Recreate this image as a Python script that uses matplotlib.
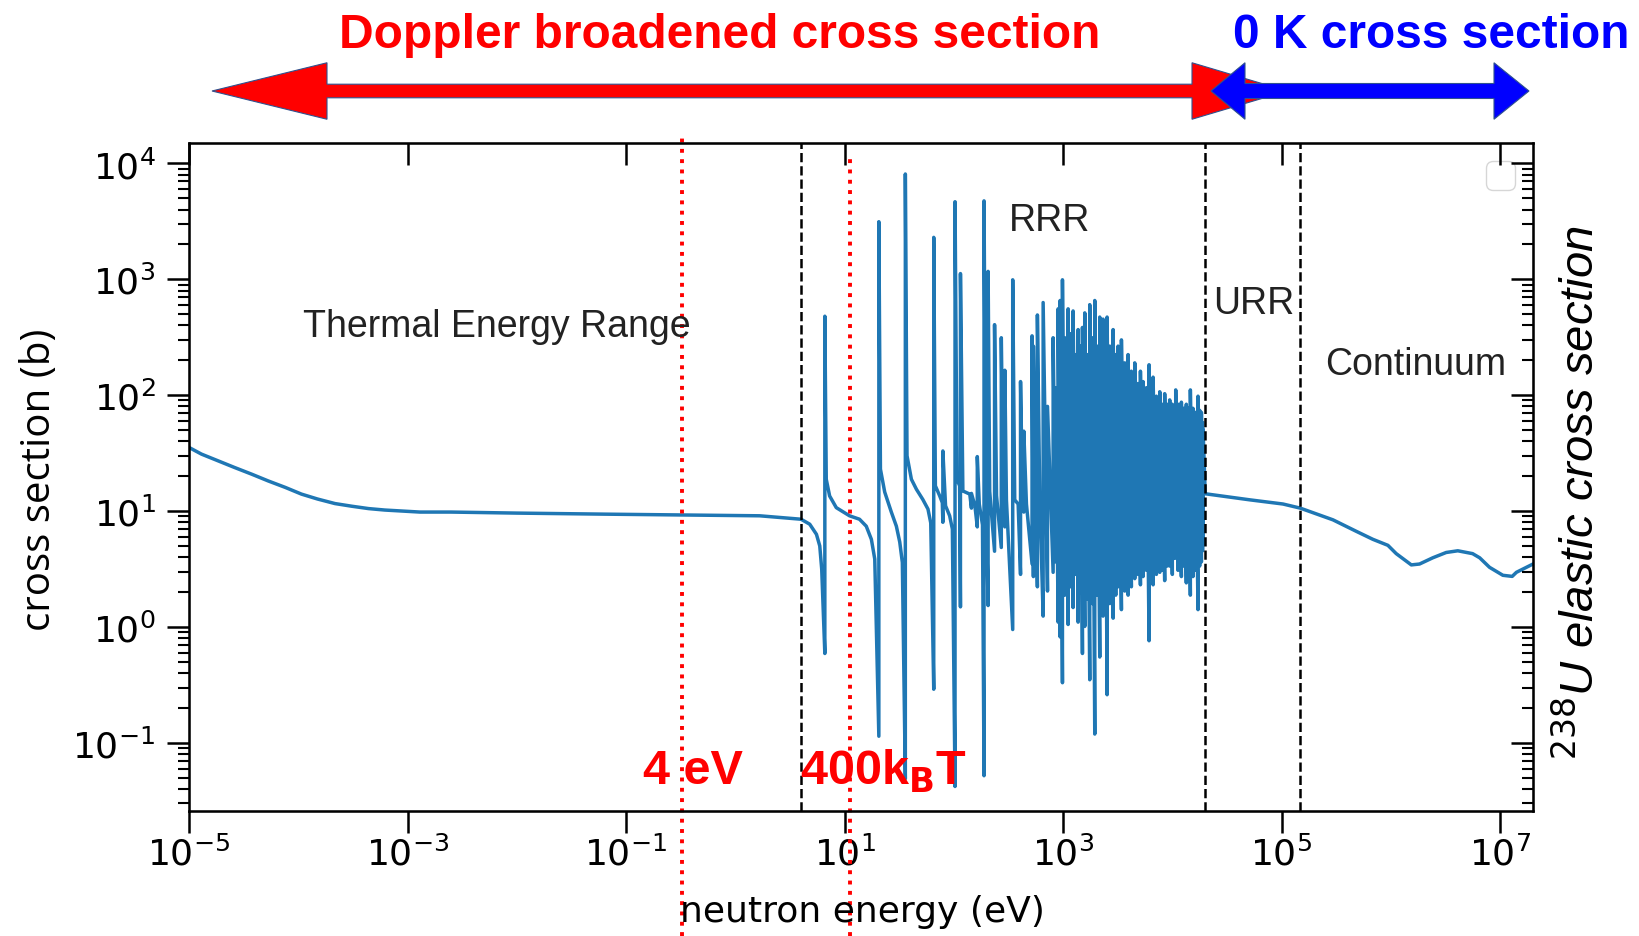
import matplotlib
matplotlib.use('Agg')
import matplotlib.pyplot as plt
from matplotlib.patches import Polygon
from matplotlib.ticker import NullLocator

# thermal part (eV, barn)
e_thermal = [1e-5, 1.3e-5, 1.85e-5, 2.6e-5, 3.75e-5, 5.3e-5, 7.6e-5, 1.07e-4, 1.5e-4, 2.17e-4,
             3.1e-4, 4.4e-4, 6.2e-4, 1.3e-3, 2.5e-3, 1e-2, 6.5e-2, 1.67]
xs_thermal = [35.4, 31, 27.1, 23.8, 20.8, 18.2, 16, 14.0, 12.7, 11.6,
              11.0, 10.5, 10.2, 9.8, 9.8, 9.6, 9.4, 9.1]

# smooth background between resolved resonances
bg_e = [4.0, 4.8, 5.53, 5.93, 6.18, 6.8, 7.3, 8.4, 11.1, 13.7, 15.8, 17.6, 18.9,
        21.3, 23.3, 26.8, 29.8, 32, 33.8, 37.3, 40.9, 45.5, 52, 58, 61.5,
        67.8, 74.3, 78.5, 84, 91.6, 97, 107, 113, 121, 140,
        156, 171, 183, 196, 213, 246, 283, 303, 361, 388, 425, 462, 563, 612]
bg_xs = [8.5, 7.7, 6.3, 5.0, 3.15, 18.8, 13.5, 10.7, 9.1, 8.5, 7.4, 5.7, 3.85,
         23, 14.6, 9.8, 7.4, 5.4, 3.6, 30, 18.8, 15.4, 12.6, 10.4, 7.9,
         16.5, 13.5, 11.8, 11.1, 9.1, 7.0, 18.8, 16.5, 14.9, 14.0,
         11.1, 11.5, 7.6, 16, 14.8, 13.6, 13.1, 12.5, 12.5, 11.5, 13.6, 11.5, 11.5, 12.5]

# resonances: energy, minimum before, peak
res_e = [6.6, 20.6, 36, 65.5, 79.4, 102.6, 115, 145, 164, 189, 206, 236, 272, 293, 346, 408, 437, 520, 535, 582,
         657, 720, 811, 858, 901, 940, 987, 1037, 1112, 1168, 1235, 1306, 1373, 1442, 1504, 1580, 1660, 1754,
         1856, 1950, 2048, 2166, 2323, 2425, 2529, 2673, 2871, 3034, 3184, 3420, 3664, 3936, 4217, 4529, 4853,
         5105, 5395, 5794, 6124, 6427, 6668, 7145, 7674, 8054, 8511, 8954, 9462, 10000, 10740, 11270, 12100,
         12700, 13430, 14030, 14620, 15450, 16250, 17180, 17780, 18450, 19100]
res_peak = [480, 3140, 8100, 2300, 33, 4670, 1120, 14.2, 29.5, 4750, 1170, 406, 313, 164, 990, 131, 48.9, 325, 265, 492,
            630, 80, 313, 116, 556, 656, 990, 313, 556, 339, 533, 224, 368, 265, 384, 513, 224, 604,
            313, 656, 265, 472, 453, 224, 472, 265, 368, 224, 265, 300, 190, 224, 161, 190, 126,
            161, 131, 116, 183, 126, 143, 98, 107, 83.5, 103, 83.5, 91, 83.5, 111, 83.5, 87,
            77, 83.5, 77, 111, 77, 71, 98, 74, 71, 51]
res_dip = [0.59, 0.114, 0.049, 0.29, 8.0, 0.042, 1.49, 10.6, 7.3, 0.052, 1.53, 4.5, 4.85, 7.3, 0.95, 2.84, 9.8, 3.5, 2.72, 2.22,
           1.24, 2.04, 2.96, 3.64, 1.10, 0.82, 0.33, 1.88, 1.05, 2.22, 1.47, 2.84, 1.10, 1.96, 0.59, 1.01, 1.73, 0.35,
           1.59, 0.119, 1.88, 0.55, 1.24, 2.22, 0.26, 1.59, 1.19, 1.88, 2.22, 1.41, 2.04, 1.88, 2.22, 2.61, 2.84,
           2.31, 2.72, 3.08, 0.76, 2.61, 2.31, 2.84, 2.96, 3.08, 2.51, 3.35, 3.35, 2.84, 4.11, 3.08, 2.72,
           3.35, 2.40, 3.08, 1.88, 2.72, 3.08, 1.41, 3.35, 3.64, 5.06]

# solid core of the resonance forest, where single lines can't be told apart
band_e = [1.4e3, 2e3, 3e3, 6e3, 1e4, 1.5e4, 1.95e4]
band_lo = [6.0, 4.2, 3.6, 3.5, 3.8, 4.0, 4.5]
band_hi = [40, 95, 110, 90, 75, 65, 60]

# unresolved + continuum
e_fast = [2.0e4, 5.1e4, 1.03e5, 1.48e5, 2.95e5, 4.8e5, 6.85e5, 9.4e5, 1.12e6, 1.54e6, 1.83e6,
          2.42e6, 3.21e6, 4.1e6, 5.6e6, 6.5e6, 8.0e6, 1.06e7, 1.29e7, 1.41e7, 2.0e7]
xs_fast = [14.1, 12.5, 11.5, 10.6, 8.4, 6.7, 5.7, 5.06, 4.29, 3.43, 3.49,
           3.95, 4.39, 4.54, 4.29, 3.95, 3.27, 2.79, 2.73, 2.96, 3.49]

# region boundaries (eV)
e_bounds = [4.0, 2.0e4, 1.46e5]
e_red = [0.324, 11.2]

# build the curve
pts = [(e, 0, s) for e, s in zip(e_thermal, xs_thermal)]
pts += [(e, 0, s) for e, s in zip(bg_e, bg_xs)]
for e, d, p in zip(res_e, res_dip, res_peak):
    pts.append((e, 0, d))
    pts.append((e, 1, p))
pts += [(e, 0, s) for e, s in zip(e_fast, xs_fast)]
pts.sort(key=lambda t: (t[0], t[1]))
energy = [t[0] for t in pts]
xs = [t[2] for t in pts]

W, H = 1640, 937
fig = plt.figure(figsize=(W / 100, H / 100), dpi=100)
ax = fig.add_axes([189 / W, 1 - 811.6 / H, 1344 / W, 667.6 / H])

blue = '#1f77b4'
ax.fill_between(band_e, band_lo, band_hi, color=blue, lw=0)
ax.plot(energy, xs, color=blue, lw=2.5)
ax.set_xscale('log')
ax.set_yscale('log')
ax.set_xlim(1e-5, 2e7)
ax.set_ylim(0.026, 1.5e4)

for e in e_bounds:
    ax.axvline(e, color='k', ls='--', lw=1.8)
ax.axvline(e_red[0], ymin=-0.188, ymax=1.015, color='red', ls=':', lw=2.8, clip_on=False)
ax.axvline(e_red[1], ymin=-0.188, ymax=0.984, color='red', ls=':', lw=2.8, clip_on=False)

ax.set_xticks([1e-5, 1e-3, 1e-1, 1e1, 1e3, 1e5, 1e7])
ax.xaxis.set_minor_locator(NullLocator())
ax.set_yticks([1e-1, 1, 1e1, 1e2, 1e3, 1e4])
ax.tick_params(labelsize=26, width=1.8, length=16, direction='out')
ax.tick_params(axis='x', pad=2)
ax.tick_params(axis='y', pad=8)
ax.tick_params(which='minor', width=1.5, length=8)
for s in ax.spines.values():
    s.set_linewidth(1.8)

axr = ax.twinx()
axr.set_yscale('log')
axr.set_ylim(ax.get_ylim())
axr.set_yticks([1e-1, 1, 1e1, 1e2, 1e3, 1e4])
axr.tick_params(direction='in', which='both', labelright=False, width=1.8)
axr.tick_params(which='major', length=16)
axr.tick_params(which='minor', length=8, width=1.5)
axt = ax.twiny()
axt.set_xscale('log')
axt.set_xlim(ax.get_xlim())
axt.set_xticks([1e-5, 1e-3, 1e-1, 1e1, 1e3, 1e5, 1e7])
axt.xaxis.set_minor_locator(NullLocator())
axt.tick_params(direction='in', labeltop=False, width=1.8, length=16)

ax.legend(handles=[], loc='upper right', fontsize=26)

txt = dict(transform=ax.transAxes, fontsize=27, color='#222222', family='Liberation Sans', va='center')
ax.text(0.0848, 0.7258, 'Thermal Energy Range', **txt)
ax.text(0.610, 0.8847, 'RRR', **txt)
ax.text(0.762, 0.7603, 'URR', **txt)
ax.text(0.845, 0.669, 'Continuum', **txt)

red = dict(transform=ax.transAxes, fontsize=35, color='red', family='Liberation Sans',
           weight='bold', va='baseline')
ax.text(0.3378, 0.0406, '4 eV', **red)
ax.text(0.4546, 0.0406, r'400k$_\mathbf{B}$T', **red)

fig.text(862 / W, 1 - 922 / H, 'neutron energy (eV)', fontsize=26, ha='center', va='baseline')
fig.text(40 / W, 1 - 480 / H, 'cross section (b)', fontsize=29, family='Open Sans',
         rotation=90, ha='center', va='center')
fig.text(1580 / W, 1 - 493 / H, r'$^{238}$U elastic cross section', fontsize=34,
         family=['Liberation Sans Narrow', 'Liberation Sans'], style='italic',
         rotation=90, ha='center', va='center')

narrow = ['Liberation Sans Narrow', 'Liberation Sans']
fig.text(720 / W, 1 - 48 / H, 'Doppler broadened cross section', fontsize=34.5, color='red',
         family=narrow, weight='bold', ha='center', va='baseline')
fig.text(1431 / W, 1 - 48 / H, '0 K cross section', fontsize=34.5, color='blue',
         family=narrow, weight='bold', ha='center', va='baseline')


def double_arrow(x0, x1, y, shaft, head_w, hl0, hl1):
    s, h = shaft / 2, head_w / 2
    return [(x0, y), (x0 + hl0, y + h), (x0 + hl0, y + s), (x1 - hl1, y + s), (x1 - hl1, y + h),
            (x1, y), (x1 - hl1, y - h), (x1 - hl1, y - s), (x0 + hl0, y - s), (x0 + hl0, y - h)]


# arrows in inches
fig.add_artist(Polygon(double_arrow(2.12, 12.87, 8.45, 0.136, 0.565, 1.15, 0.95),
                       closed=True, facecolor='red', edgecolor='#2f528f', lw=0.8,
                       transform=fig.dpi_scale_trans))
fig.add_artist(Polygon(double_arrow(12.11, 15.29, 8.45, 0.15, 0.565, 0.34, 0.35),
                       closed=True, facecolor='blue', edgecolor='#2f528f', lw=0.8,
                       transform=fig.dpi_scale_trans))

fig.savefig('out.png', dpi=100)
